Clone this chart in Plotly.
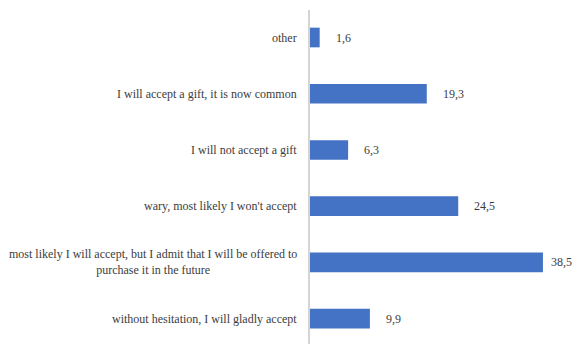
import plotly.graph_objects as go

categories = [
    "other",
    "I will accept a gift, it is now common",
    "I will not accept a gift",
    "wary, most likely I won't accept",
    "most likely I will accept, but I admit that I will be offered to<br>purchase it in the future",
    "without hesitation, I will gladly accept",
]
values = [1.6, 19.3, 6.3, 24.5, 38.5, 9.9]
value_labels = ["1,6", "19,3", "6,3", "24,5", "38,5", "9,9"]

FONT = "Liberation Serif, Times New Roman, serif"
TXT = "#3c3c3c"

fig = go.Figure()
fig.add_trace(go.Bar(
    x=values, y=categories, orientation="h",
    marker=dict(color="#4472C4", line=dict(width=0)),
    hoverinfo="skip",
))

for c, v, t in zip(categories, values, value_labels):
    fig.add_annotation(x=v, y=c, text=t, xref="x", yref="y",
                       xanchor="left", yanchor="middle", xshift=14 if v < 35 else 6,
                       showarrow=False, font=dict(family=FONT, size=12, color=TXT))
    fig.add_annotation(x=0, y=c, text=c, xref="x", yref="y",
                       xanchor="right", yanchor="middle", xshift=-11, align="center",
                       showarrow=False, font=dict(family=FONT, size=12, color=TXT))

fig.update_layout(
    width=579, height=344,
    margin=dict(l=310, r=0, t=10, b=0),
    paper_bgcolor="white", plot_bgcolor="white",
    showlegend=False,
    bargap=0.65,
    xaxis=dict(range=[0, 44.46], visible=False, fixedrange=True),
    yaxis=dict(
        type="category", categoryorder="array", categoryarray=categories,
        range=[5.45, -0.489], showticklabels=False, ticks="",
        showgrid=False, zeroline=False,
        showline=True, linecolor="#d4d4d4", linewidth=1.5,
    ),
)

fig.write_html("out.html")
